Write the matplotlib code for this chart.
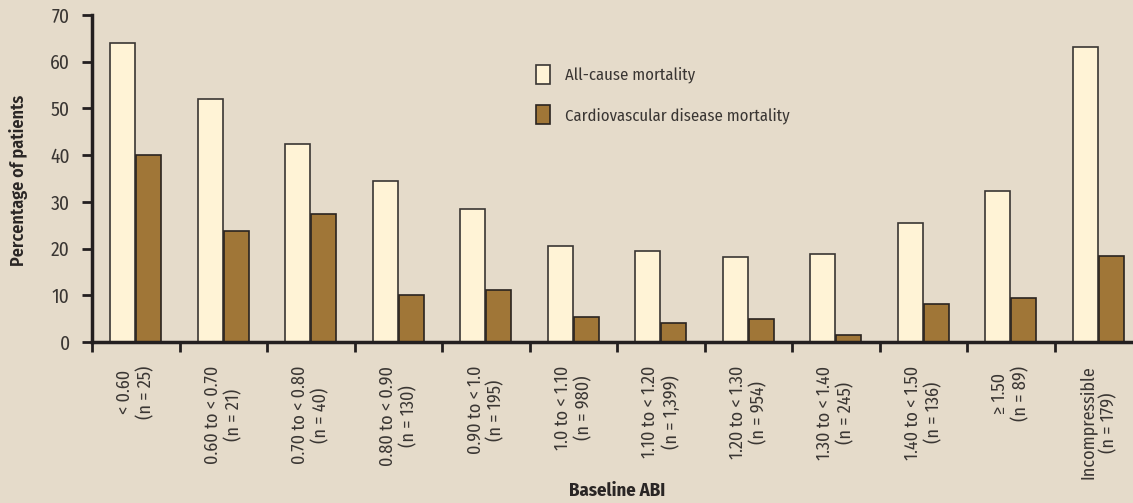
import numpy as np
import matplotlib
matplotlib.use("Agg")
import matplotlib.pyplot as plt
from matplotlib.patches import Patch

# Data
categories = [
    "< 0.60\n(n = 25)",
    "0.60 to < 0.70\n(n = 21)",
    "0.70 to < 0.80\n(n = 40)",
    "0.80 to < 0.90\n(n = 130)",
    "0.90 to < 1.0\n(n = 195)",
    "1.0 to < 1.10\n(n = 980)",
    "1.10 to < 1.20\n(n = 1,399)",
    "1.20 to < 1.30\n(n = 954)",
    "1.30 to < 1.40\n(n = 245)",
    "1.40 to < 1.50\n(n = 136)",
    "\u2265 1.50\n(n = 89)",
    "Incompressible\n(n = 179)",
]
all_cause = [63.9, 52.1, 42.4, 34.4, 28.5, 20.6, 19.5, 18.1, 18.8, 25.5, 32.3, 63.2]
cvd = [40.0, 23.7, 27.5, 10.1, 11.2, 5.4, 4.0, 4.9, 1.6, 8.1, 9.5, 18.5]
yticks = [0, 10, 20, 30, 40, 50, 60, 70]

bg = "#e5dbca"
light = "#fff3d6"
brown = "#a07637"
dark = "#231f20"

plt.rcParams["font.family"] = ["Fira Sans Condensed", "PT Sans Narrow", "Cabin Condensed",
                               "Archivo Narrow", "DejaVu Sans"]

fig = plt.figure(figsize=(11.33, 5.03), dpi=100)
fig.patch.set_facecolor(bg)
ax = fig.add_axes([92 / 1133, 1 - 342 / 503, 1050 / 1133, 327 / 503])
ax.set_facecolor(bg)

x = np.arange(len(categories))
w = 0.29
ax.bar(x - 0.148, all_cause, w, color=light, edgecolor="#3a3633", linewidth=1.2)
ax.bar(x + 0.148, cvd, w, color=brown, edgecolor="#2a2420", linewidth=1.2)

ax.set_xlim(-0.5, len(categories) - 0.5)
ax.set_ylim(0, 70)
ax.set_yticks(yticks)
ax.tick_params(axis="y", direction="out", length=7, width=2, color=dark,
               labelsize=14, labelcolor="#3a3633", pad=9)

ax.set_xticks(x)
ax.set_xticklabels(categories, rotation=90, va="top", ha="center",
                   multialignment="center", fontsize=13, color="#3a3633")
ax.tick_params(axis="x", which="major", length=0, pad=17)
ax.set_xticks(np.arange(-0.5, len(categories) - 0.5, 1.0), minor=True)
ax.tick_params(axis="x", which="minor", direction="out", length=7, width=2, color=dark)

for s in ["top", "right"]:
    ax.spines[s].set_visible(False)
for s in ["left", "bottom"]:
    ax.spines[s].set_linewidth(2.5)
    ax.spines[s].set_color(dark)

fig.text(19 / 1133, 1 - 180 / 503, "Percentage of patients", rotation=90,
         ha="center", va="center", fontsize=13, fontweight="semibold", color="#2a2625")
fig.text(617 / 1133, 1 - 491 / 503, "Baseline ABI", ha="center", va="center",
         fontsize=13.5, fontweight="bold", color="#2a2625")

handles = [
    Patch(facecolor=light, edgecolor="#3a3633", linewidth=1.2, label="All-cause mortality"),
    Patch(facecolor=brown, edgecolor="#2a2420", linewidth=1.2, label="Cardiovascular disease mortality"),
]
fig.legend(handles=handles, loc="upper left", bbox_to_anchor=(521 / 1133, 1 - 50 / 503),
           frameon=False, fontsize=12, handlelength=0.85, handleheight=1.35,
           handletextpad=0.9, labelspacing=1.3, labelcolor="#3a3633")

fig.savefig("out.png", dpi=100, facecolor=bg)
